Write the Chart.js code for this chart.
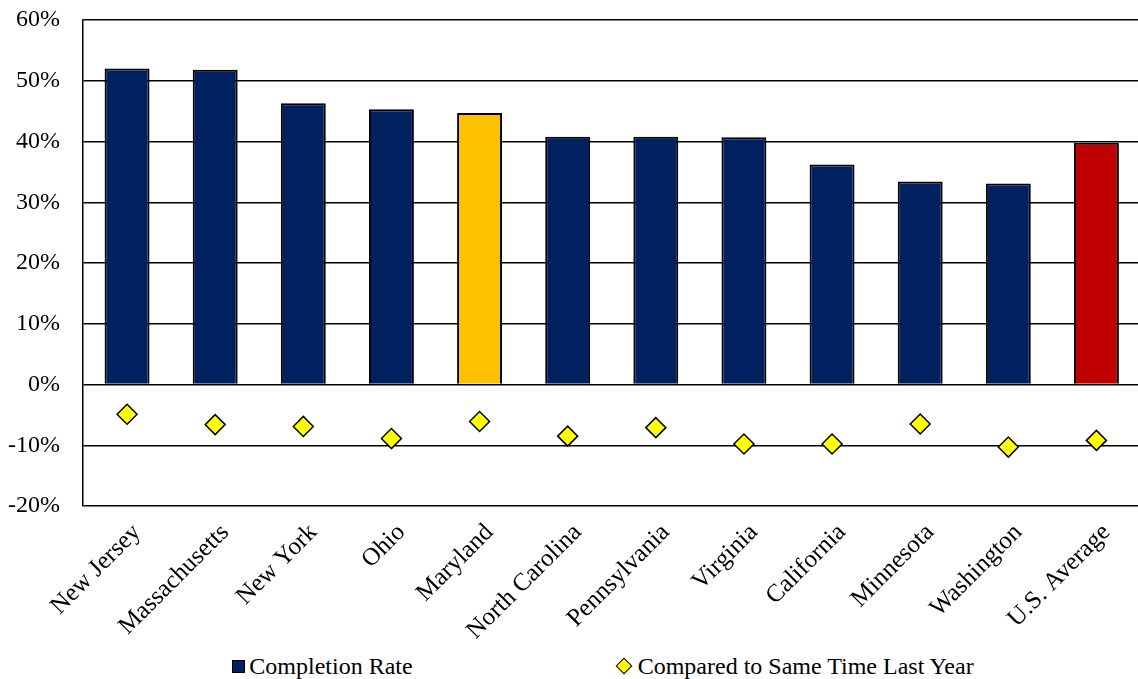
<!DOCTYPE html>
<html>
<head>
<meta charset="utf-8">
<title>Completion Rate by State</title>
<script src="https://cdn.jsdelivr.net/npm/chart.js@4/dist/chart.umd.min.js"></script>
<style>
  html, body { margin: 0; padding: 0; background: #fff; overflow: hidden; }
  #wrap { position: relative; width: 1152px; height: 679px; }
  #chartBox { position: absolute; left: 0; top: 0; width: 1152px; height: 652px; }
  #legend {
    position: absolute; left: 54px; right: 0; top: 652px; height: 28px;
    display: flex; justify-content: center; align-items: center; gap: 202px;
    font-family: 'Liberation Serif', 'Times New Roman', serif; font-size: 24px; color: #000;
  }
  #legend .item { display: flex; align-items: center; white-space: nowrap; }
  #legend .square { width: 11px; height: 11px; border: 1px solid #000; margin-right: 4px; }
  #legend .diamond { width: 10px; height: 10px; border: 1.5px solid #000; transform: rotate(45deg); margin: 0 8px 0 3px; }
</style>
</head>
<body>
<div id="wrap">
  <div id="chartBox"><canvas id="rateChart"></canvas></div>
  <div id="legend"></div>
</div>
<script>
// states, ordered by completion rate
const states = ['New Jersey', 'Massachusetts', 'New York', 'Ohio', 'Maryland', 'North Carolina',
                'Pennsylvania', 'Virginia', 'California', 'Minnesota', 'Washington', 'U.S. Average'];
// completion rate, %
const completionRate = [52.0, 51.8, 46.3, 45.3, 44.7, 40.8, 40.8, 40.7, 36.2, 33.4, 33.1, 39.8];
// change vs. same time last year, percentage points
const vsLastYear = [-4.9, -6.6, -6.9, -8.9, -6.1, -8.5, -7.1, -9.8, -9.8, -6.5, -10.3, -9.2];
const yTicks = [-20, -10, 0, 10, 20, 30, 40, 50, 60];

const NAVY = '#00215F';
const barColors = states.map(function(s) {
    if (s === 'Maryland') return '#FFC000';
    if (s === 'U.S. Average') return '#C00000';
    return NAVY;
});

const serif = "'Liberation Serif', 'Times New Roman', serif";

const ctx = document.getElementById('rateChart').getContext('2d');
const chart = new Chart(ctx, {
    type: 'bar',
    data: {
        labels: states,
        datasets: [{
            label: 'Completion Rate',
            data: completionRate,
            backgroundColor: barColors,
            borderColor: '#000',
            borderWidth: 2,
            categoryPercentage: 1.0,
            barPercentage: 0.51,
            order: 2
        }, {
            type: 'line',
            label: 'Compared to Same Time Last Year',
            data: vsLastYear,
            showLine: false,
            pointStyle: 'rectRot',
            pointRadius: 10,
            pointBackgroundColor: '#FFFF00',
            pointBorderColor: '#000',
            pointBorderWidth: 1.5,
            order: 1
        }]
    },
    options: {
        responsive: true,
        maintainAspectRatio: false,
        animation: false,
        layout: { padding: { top: 20, left: 0, right: 0, bottom: 0 } },
        plugins: {
            legend: { display: false },
            tooltip: { enabled: false }
        },
        scales: {
            x: {
                grid: { display: false, drawTicks: false },
                border: { display: false },
                ticks: {
                    color: '#000',
                    font: { family: serif, size: 25 },
                    minRotation: 45,
                    maxRotation: 45,
                    padding: 12,
                    labelOffset: 10
                },
                afterFit: function(scale) { scale.height = 146; }
            },
            y: {
                min: yTicks[0],
                max: yTicks[yTicks.length - 1],
                afterBuildTicks: function(scale) {
                    scale.ticks = yTicks.map(function(v) { return { value: v }; });
                },
                grid: { color: '#000', lineWidth: 1.5, drawTicks: false },
                border: { display: true, color: '#000', width: 1.5 },
                ticks: {
                    color: '#000',
                    font: { family: serif, size: 24 },
                    padding: 23,
                    callback: function(v) { return v + '%'; }
                },
                afterFit: function(scale) {
                    scale.width = 83;
                    scale.paddingTop = 0;
                    scale.paddingBottom = 0;
                }
            }
        }
    }
});

// legend built from the datasets
const legendEl = document.getElementById('legend');
chart.data.datasets.forEach(function(ds, i) {
    const item = document.createElement('div');
    item.className = 'item';
    const mark = document.createElement('span');
    if (i === 0) {
        mark.className = 'square';
        mark.style.background = NAVY;
    } else {
        mark.className = 'diamond';
        mark.style.background = ds.pointBackgroundColor;
    }
    const txt = document.createElement('span');
    txt.textContent = ds.label;
    item.appendChild(mark);
    item.appendChild(txt);
    legendEl.appendChild(item);
});
</script>
</body>
</html>
